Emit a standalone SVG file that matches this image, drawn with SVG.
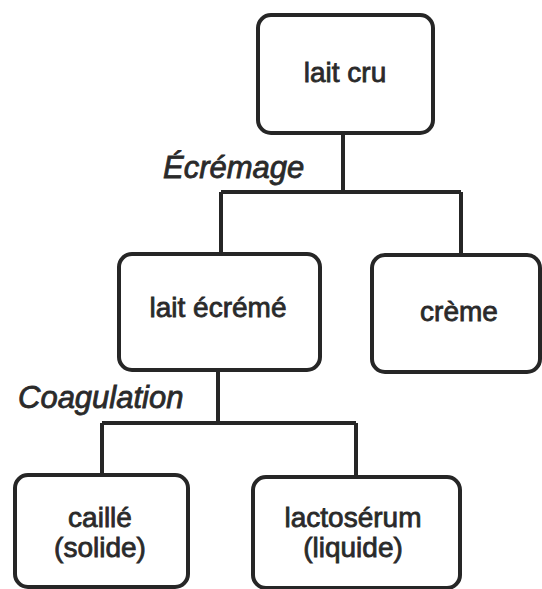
<svg xmlns="http://www.w3.org/2000/svg" width="542" height="589" viewBox="0 0 542 589">
<style>
.box{fill:#fff;stroke:#262626;stroke-width:4;}
.t{font-family:"Liberation Sans",Arial,sans-serif;font-size:28px;fill:#2a2a2a;stroke:#2a2a2a;stroke-width:0.8;text-anchor:middle;}
.lbl{font-family:"Liberation Sans",Arial,sans-serif;font-size:31px;font-style:italic;fill:#2a2a2a;stroke:#2a2a2a;stroke-width:0.8;}
.c{fill:none;stroke:#262626;stroke-width:4;}
</style>
<rect width="542" height="589" fill="#fff"/>
<g id="connectors">
<path class="c" d="M343,133 V192 M221,192 H461 M221,192 V254 M461,192 V255"/>
<path class="c" d="M218,370 V423 M102,423 H356 M102,423 V475 M356,423 V477"/>
<text class="lbl" x="163" y="178">Écrémage</text>
<text class="lbl" x="18" y="408">Coagulation</text>
</g>
<g id="lait-cru">
<rect class="box" x="258" y="15" width="175" height="118" rx="13"/>
<text class="t" x="345" y="82">lait cru</text>
</g>
<g id="lait-ecreme">
<rect class="box" x="119" y="254" width="201" height="116" rx="13"/>
<text class="t" x="218" y="317">lait écrémé</text>
</g>
<g id="creme">
<rect class="box" x="372" y="255" width="168" height="117" rx="13"/>
<text class="t" x="459" y="321">crème</text>
</g>
<g id="caille">
<rect class="box" x="15" y="475" width="173" height="112" rx="13"/>
<text class="t" x="100" y="527">caillé</text>
<text class="t" x="100" y="557">(solide)</text>
</g>
<g id="lactoserum">
<rect class="box" x="253" y="477" width="207" height="111" rx="13"/>
<text class="t" x="353" y="527">lactosérum</text>
<text class="t" x="353" y="557">(liquide)</text>
</g>
</svg>
